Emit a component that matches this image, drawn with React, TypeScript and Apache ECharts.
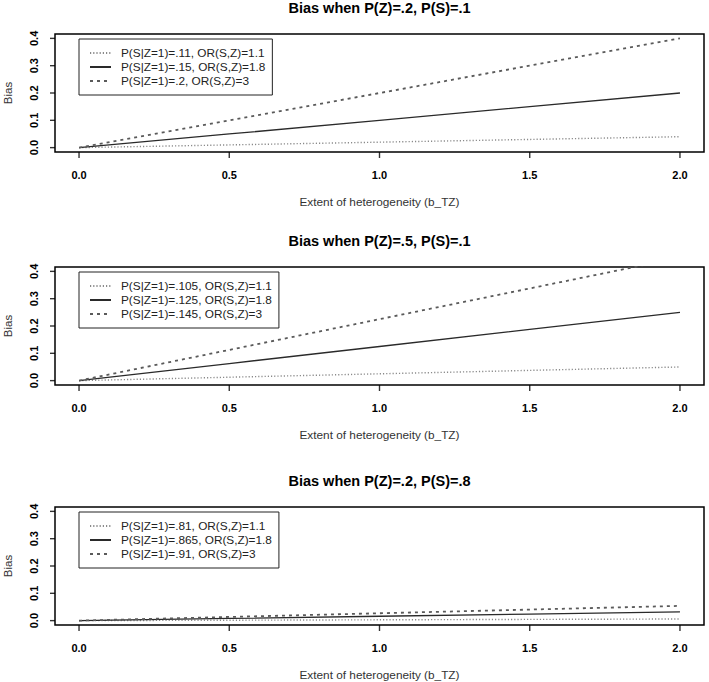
import React, { useEffect, useRef } from "react";
import * as echarts from "echarts";

// ---- data ----
const xValues = [0, 0.5, 1, 1.5, 2];
const xTickValues = [0, 0.5, 1, 1.5, 2];
const yTickValues = [0, 0.1, 0.2, 0.3, 0.4];
const xTickStep = 0.5;
const xRange = [0, 2];
const yTickStep = 0.1;
const yRange = [0, 0.4];

const panelTitles = [
  "Bias when P(Z)=.2, P(S)=.1",
  "Bias when P(Z)=.5, P(S)=.1",
  "Bias when P(Z)=.2, P(S)=.8",
];

const names1 = ["P(S|Z=1)=.11, OR(S,Z)=1.1", "P(S|Z=1)=.15, OR(S,Z)=1.8", "P(S|Z=1)=.2, OR(S,Z)=3"];
const names2 = ["P(S|Z=1)=.105, OR(S,Z)=1.1", "P(S|Z=1)=.125, OR(S,Z)=1.8", "P(S|Z=1)=.145, OR(S,Z)=3"];
const names3 = ["P(S|Z=1)=.81, OR(S,Z)=1.1", "P(S|Z=1)=.865, OR(S,Z)=1.8", "P(S|Z=1)=.91, OR(S,Z)=3"];

// panel 1
const p1Dotted = [0, 0.01, 0.02, 0.03, 0.04];
const p1Solid = [0, 0.05, 0.1, 0.15, 0.2];
const p1Dashed = [0, 0.1, 0.2, 0.3, 0.4];
// panel 2
const p2Dotted = [0, 0.0125, 0.025, 0.0375, 0.05];
const p2Solid = [0, 0.0625, 0.125, 0.1875, 0.25];
const p2Dashed = [0, 0.1125, 0.225, 0.3375, 0.45];
// panel 3
const p3Dotted = [0, 0.0015, 0.003, 0.0045, 0.006];
const p3Solid = [0, 0.008, 0.016, 0.024, 0.032];
const p3Dashed = [0, 0.0135, 0.027, 0.0405, 0.054];

const xAxisTitle = "Extent of heterogeneity (b_TZ)";
const yAxisTitle = "Bias";

const FONT = "'Liberation Sans', Arial, Helvetica, sans-serif";

export default function App() {
  const ref = useRef<HTMLDivElement>(null);

  useEffect(() => {
    if (!ref.current) return;
    const chart = echarts.init(ref.current, undefined, { renderer: "svg" });

    const gridTops = [34, 267, 507];
    const gridH = 118;
    const gridLeft = 55;
    const gridW = 649;

    // R-style 4% extension of the data range
    const xPad = (xRange[1] - xRange[0]) * 0.04;
    const yPad = (yRange[1] - yRange[0]) * 0.04;
    const xMin = xRange[0] - xPad;
    const xMax = xRange[1] + xPad;
    const yMin = yRange[0] - yPad;
    const yMax = yRange[1] + yPad;
    const xSpan = xMax - xMin;
    const ySpan = yMax - yMin;
    const innerLeft = gridLeft + (gridW * xPad) / xSpan;
    const innerW = (gridW * (xRange[1] - xRange[0])) / xSpan;
    const innerTopOff = (gridH * yPad) / ySpan;
    const innerH = (gridH * (yRange[1] - yRange[0])) / ySpan;
    const xOffset = innerTopOff;
    const yOffset = innerLeft - gridLeft;

    const panels = [
      { names: names1, data: [p1Dotted, p1Solid, p1Dashed] },
      { names: names2, data: [p2Dotted, p2Solid, p2Dashed] },
      { names: names3, data: [p3Dotted, p3Solid, p3Dashed] },
    ];

    const styles = [
      { color: "#8a8a8a", width: 1.4, type: [1.2, 2] as any },
      { color: "#2a2a2a", width: 1.3, type: "solid" as any },
      { color: "#5a5a5a", width: 1.8, type: [3, 4] as any },
    ];

    const grids: any[] = [];
    const xAxes: any[] = [];
    const yAxes: any[] = [];
    const series: any[] = [];
    const legends: any[] = [];
    const graphics: any[] = [];

    const tickLabel = {
      color: "#000",
      fontFamily: FONT,
      fontSize: 11,
      fontWeight: "bold",
      formatter: (v: number) => v.toFixed(1),
    };

    const addGrid = (g: any) => {
      grids.push({ containLabel: false, outerBoundsMode: "none", show: false, ...g });
      return grids.length - 1;
    };

    panels.forEach((p, i) => {
      const boxTop = gridTops[i];

      // main plotting region (the box)
      const gA = addGrid({
        left: gridLeft,
        top: boxTop,
        width: gridW,
        height: gridH,
        show: true,
        borderColor: "#000",
        borderWidth: 1.5,
        backgroundColor: "transparent",
      });
      const xA = xAxes.length;
      xAxes.push({ type: "value", gridIndex: gA, min: xMin, max: xMax, show: false });
      const yA = yAxes.length;
      yAxes.push({ type: "value", gridIndex: gA, min: yMin, max: yMax, show: false });

      // inner region: tick labels and axis titles
      const gB = addGrid({ left: innerLeft, top: boxTop + innerTopOff, width: innerW, height: innerH });
      xAxes.push({
        type: "value",
        gridIndex: gB,
        min: xRange[0],
        max: xRange[1],
        interval: xTickStep,
        position: "bottom",
        offset: xOffset,
        splitLine: { show: false },
        axisLine: { show: false, onZero: false },
        axisTick: { show: false },
        axisLabel: { ...tickLabel, margin: 17 },
        name: xAxisTitle,
        nameLocation: "middle",
        nameGap: 44,
        nameTextStyle: { color: "#333", fontFamily: FONT, fontSize: 11.8 },
      });
      yAxes.push({
        type: "value",
        gridIndex: gB,
        min: yRange[0],
        max: yRange[1],
        interval: yTickStep,
        position: "left",
        offset: yOffset,
        splitLine: { show: false },
        axisLine: { show: false, onZero: false },
        axisTick: { show: false },
        axisLabel: { ...tickLabel, rotate: 90, margin: 16 },
        name: yAxisTitle,
        nameLocation: "middle",
        nameRotate: 90,
        nameGap: 41,
        nameTextStyle: { color: "#333", fontFamily: FONT, fontSize: 11.5 },
      });

      // tick marks, placed through the box's own scales, hanging outside its edges
      series.push({
        type: "scatter",
        name: `xticks${i}`,
        xAxisIndex: xA,
        yAxisIndex: yA,
        silent: true,
        clip: false,
        symbol: "rect",
        symbolSize: [1.4, 6],
        symbolOffset: [0, 3],
        itemStyle: { color: "#000" },
        z: 5,
        data: xTickValues.map((v) => [v, yMin]),
      });
      series.push({
        type: "scatter",
        name: `yticks${i}`,
        xAxisIndex: xA,
        yAxisIndex: yA,
        silent: true,
        clip: false,
        symbol: "rect",
        symbolSize: [5, 1.4],
        symbolOffset: [-2.5, 0],
        itemStyle: { color: "#000" },
        z: 5,
        data: yTickValues.map((v) => [xMin, v]),
      });

      p.data.forEach((vals, k) => {
        series.push({
          type: "line",
          name: p.names[k],
          xAxisIndex: xA,
          yAxisIndex: yA,
          symbol: "none",
          clip: true,
          color: styles[k].color,
          lineStyle: { color: styles[k].color, width: styles[k].width, type: styles[k].type },
          data: xValues.map((x, j) => [x, vals[j]]),
        });
      });
      legends.push({
        data: p.names,
        orient: "vertical",
        left: 79,
        top: boxTop + 5,
        padding: [8, 7, 8, 10],
        itemGap: 2,
        itemWidth: 21,
        itemHeight: 12,
        selectedMode: false,
        backgroundColor: "#fff",
        borderColor: "#222",
        borderWidth: 1,
        itemStyle: { color: "transparent", borderWidth: 0, opacity: 0 },
        textStyle: { color: "#222", fontFamily: FONT, fontSize: 11.8, padding: [0, 0, 0, 5] },
      });
      graphics.push({
        type: "text",
        x: gridLeft + gridW / 2,
        y: boxTop - 26,
        style: {
          text: panelTitles[i],
          fill: "#000",
          font: `bold 14.5px ${FONT}`,
          textAlign: "center",
          textVerticalAlign: "middle",
        },
      });
    });

    chart.setOption({
      animation: false,
      backgroundColor: "#fff",
      grid: grids,
      xAxis: xAxes,
      yAxis: yAxes,
      series,
      legend: legends,
      graphic: graphics,
    });

    return () => chart.dispose();
  }, []);

  return (
    <div
      ref={ref}
      style={{ position: "fixed", left: 0, top: 0, width: 709, height: 682, background: "#fff" }}
    />
  );
}
